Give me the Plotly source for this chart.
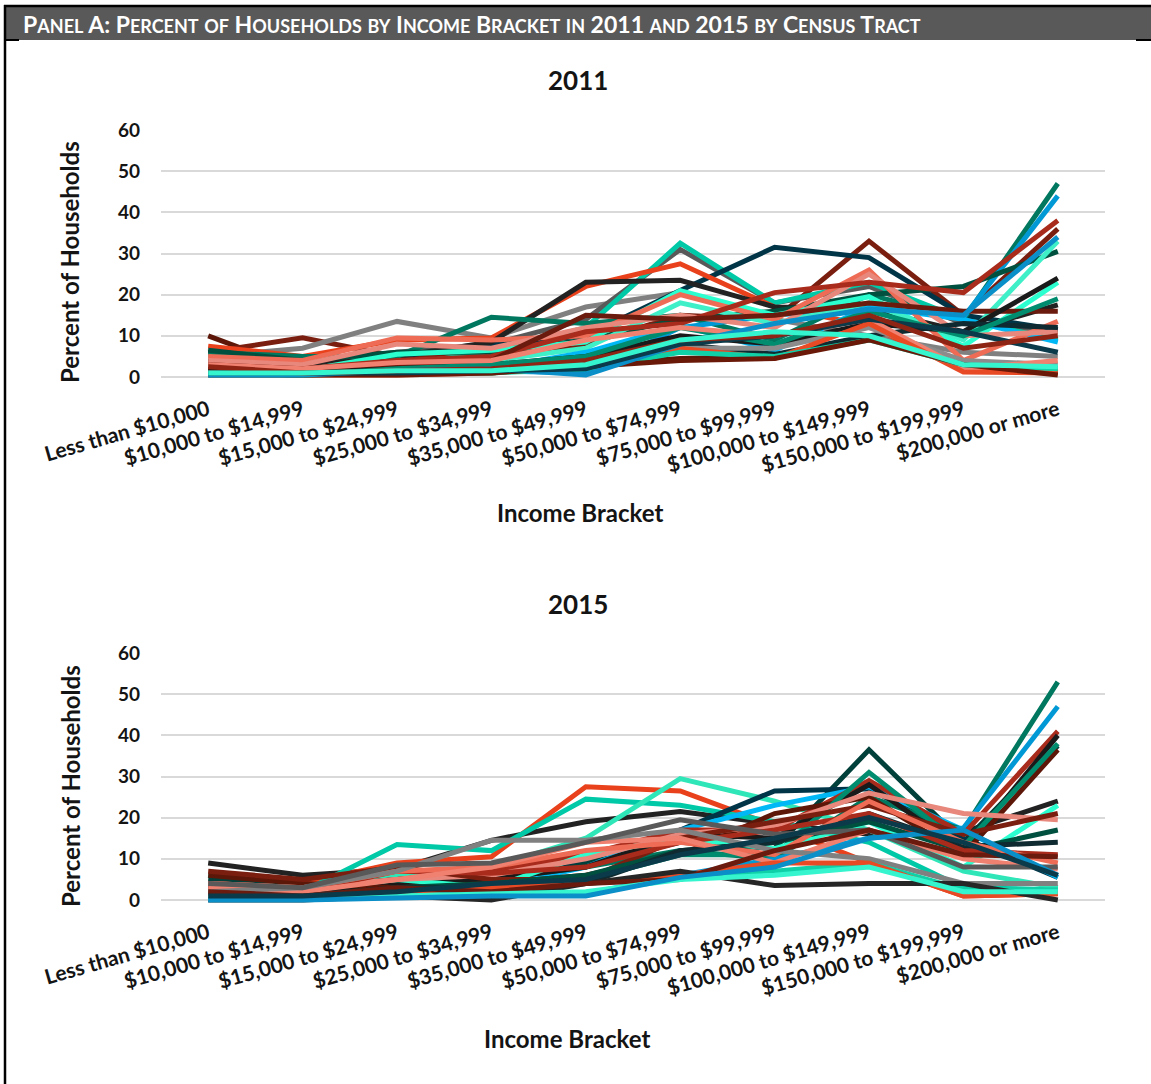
import plotly.graph_objects as go

# ---------------- data ----------------
categories = ["Less than $10,000", "$10,000 to $14,999", "$15,000 to $24,999",
              "$25,000 to $34,999", "$35,000 to $49,999", "$50,000 to $74,999",
              "$75,000 to $99,999", "$100,000 to $149,999", "$150,000 to $199,999",
              "$200,000 or more"]
y_ticks = [0, 10, 20, 30, 40, 50, 60]

# 2011, percent of households per census tract
t01_2011 = [10, 1.5, 1, 1, 3, 4.5, 5, 10, 4, 1]
t02_2011 = [6, 9.5, 5, 5, 8, 15, 14, 33, 15, 36]
t03_2011 = [5, 7, 13.5, 9.5, 17, 20.5, 14, 10, 6, 5]
t04_2011 = [3, 3.5, 6, 8, 14, 31, 18, 22, 13, 11]
t05_2011 = [1, 1, 3, 6, 12, 32.5, 18, 23, 14, 9]
t06_2011 = [2, 3, 5, 8, 10, 21, 31.5, 29, 15, 11.5]
t07_2011 = [7.5, 5, 9, 9.5, 22, 27.5, 17, 12.5, 1.5, 1.5]
t08_2011 = [4, 3, 5, 8.5, 23, 23.5, 17, 16.5, 11, 17.5]
t09_2011 = [6, 5, 5, 14.5, 13, 15, 9, 20, 14, 47]
t10_2011 = [1.5, 1, 1.5, 1.5, 1, 12, 15, 17, 14.5, 44]
t11_2011 = [6.5, 4, 6, 6, 9, 14, 16, 20, 22, 30.5]
t12_2011 = [2, 1.5, 5.5, 6.5, 8.5, 21, 15, 19.5, 7.5, 23]
t13_2011 = [3, 2, 3, 4, 7, 18, 13, 18, 9, 33]
t14_2011 = [1, 0.5, 1, 2, 6, 12.5, 6.5, 17, 14, 8.5]
t15_2011 = [5, 4, 9.5, 9, 10, 20, 14, 26, 4, 13.5]
t16_2011 = [4, 3, 8, 7, 12, 15, 12, 25, 10, 11]
t17_2011 = [2, 2, 4, 5, 11, 13, 20.5, 23, 20.5, 38]
t18_2011 = [3, 2, 3, 4, 15, 14, 15, 18, 16, 16]
t19_2011 = [2, 1, 2, 3, 5, 10, 8, 13, 11, 24]
t20_2011 = [1, 1, 1, 2, 4, 8, 5.5, 10, 13, 12]
t21_2011 = [1, 0.5, 2, 3, 5, 12, 8, 16, 10, 19]
t22_2011 = [1, 0.5, 1, 1.5, 3, 7, 7, 12, 4, 3]
t23_2011 = [3, 2, 3.5, 4, 9, 12, 10, 14, 2, 4]
t24_2011 = [1, 0.5, 0.5, 1, 3, 7, 4.5, 13, 1.2, 1]
t25_2011 = [0.5, 0.5, 1, 1, 2, 6, 5, 9, 3, 2]
t26_2011 = [0.5, 0.5, 0.5, 1, 2.5, 4, 4.5, 9, 3, 0.5]
t27_2011 = [0.5, 0.5, 1.5, 2, 0.5, 8, 13, 16.5, 15, 34]
t28_2011 = [1, 1, 1, 1.5, 2, 8, 10, 14, 11, 6]
t29_2011 = [2.5, 1, 1.5, 2, 4, 9, 10, 15, 7, 10]
t30_2011 = [1, 1, 1.5, 1.5, 3, 9, 11, 10, 3, 2.5]

# 2015, percent of households per census tract
t01_2015 = [9, 6, 7.5, 14.5, 19, 21.5, 18.5, 16, 16.5, 24]
t02_2015 = [3, 4, 9, 10.5, 27.5, 26.5, 18, 9, 1, 1.5]
t03_2015 = [6, 2, 13.5, 12, 24.5, 23, 19, 14, 3, 2.5]
t04_2015 = [3, 2, 6, 8, 15, 29.5, 24, 17, 7, 3]
t05_2015 = [5, 3, 5, 7, 9, 14, 12.5, 36.5, 14, 37.5]
t06_2015 = [2, 2, 4, 5, 10, 17, 26.5, 27, 15, 5.5]
t07_2015 = [1, 1, 2, 3, 8, 17, 23, 27.5, 17, 5.5]
t08_2015 = [2, 1, 3, 5, 8, 12, 10, 25, 17, 53]
t09_2015 = [0.5, 0.5, 1, 2, 1.5, 6, 10, 15, 17.5, 47]
t10_2015 = [4, 3, 5, 7, 11, 17, 17, 29, 16, 41]
t11_2015 = [3, 2, 4, 5, 8, 16, 15, 28, 12, 40]
t12_2015 = [6, 4, 3, 4, 6, 11, 21, 25, 11, 36.5]
t13_2015 = [1, 1, 2, 3, 5, 11, 11, 31, 13, 38]
t14_2015 = [2.5, 2.5, 5, 3, 11, 15, 12.5, 19, 8, 23]
t15_2015 = [4, 3, 5, 6, 10, 16, 18, 26, 21, 19.5]
t16_2015 = [7, 5, 8, 5, 5, 15, 19, 23, 16, 21]
t17_2015 = [1.5, 1, 3, 4, 6, 12, 14, 19, 12, 17]
t18_2015 = [2, 1, 3, 3, 4, 12, 14, 21, 13, 14]
t19_2015 = [3, 2, 7, 6.5, 8, 14, 17, 21, 12, 11]
t20_2015 = [4, 3, 7, 8, 12, 14, 11, 24, 14, 9]
t21_2015 = [3, 2, 5, 8, 14, 15, 9, 17, 10, 7.5]
t22_2015 = [2, 3, 7, 14.5, 14.5, 17, 12, 10, 4, 4]
t23_2015 = [4, 3, 8.5, 9, 14, 19.5, 16, 17, 8, 8]
t24_2015 = [1, 1, 2, 3, 4, 5.5, 7, 9, 2.5, 2.5]
t25_2015 = [1, 1, 2, 3, 4, 6, 9, 9, 1, 1.5]
t26_2015 = [0, 0, 1, 0, 4, 7, 3.5, 4, 4, 0]
t27_2015 = [2, 1, 3, 2, 4, 5, 12, 17, 11, 10.5]
t28_2015 = [0.5, 0.5, 1, 1.5, 2, 5, 6, 8, 2, 2]
t29_2015 = [0, 0, 0.5, 1, 1, 5.5, 8, 15, 17, 6]
t30_2015 = [1, 1, 2, 4, 5, 11, 15, 20, 14, 6]

tracts_2011 = [t01_2011, t02_2011, t03_2011, t04_2011, t05_2011, t06_2011, t07_2011,
               t08_2011, t09_2011, t10_2011, t11_2011, t12_2011, t13_2011, t14_2011,
               t15_2011, t16_2011, t17_2011, t18_2011, t19_2011, t20_2011, t21_2011,
               t22_2011, t23_2011, t24_2011, t25_2011, t26_2011, t27_2011, t28_2011,
               t29_2011, t30_2011]
tracts_2015 = [t01_2015, t02_2015, t03_2015, t04_2015, t05_2015, t06_2015, t07_2015,
               t08_2015, t09_2015, t10_2015, t11_2015, t12_2015, t13_2015, t14_2015,
               t15_2015, t16_2015, t17_2015, t18_2015, t19_2015, t20_2015, t21_2015,
               t22_2015, t23_2015, t24_2015, t25_2015, t26_2015, t27_2015, t28_2015,
               t29_2015, t30_2015]

# ---------------- styles ----------------
colors_2011 = ["#5C1708", "#7A1E10", "#808080", "#595959", "#00C9A7", "#003548",
               "#E8411B", "#222222", "#00775F", "#0099D6", "#00503F", "#2BFFD0",
               "#3FEFC8", "#00B8F5", "#EE6C55", "#E8877B", "#A82B1C", "#6B1A0E",
               "#1A1A1A", "#0F2A30", "#008C6E", "#8C8C8C", "#F08070", "#E84A25",
               "#10D0A8", "#6A1808", "#0A8FC8", "#0B3A4A", "#8E2414", "#35F5CF"]
colors_2015 = ["#222222", "#E8411B", "#00C9A7", "#2EE6B8", "#00403A", "#003548",
               "#00B8F5", "#00775F", "#0099D6", "#A82B1C", "#1A1A1A", "#5C1708",
               "#008C6E", "#2BFFD0", "#E8877B", "#7A1E10", "#00503F", "#0F2A30",
               "#A82B1C", "#EE6C55", "#F08070", "#808080", "#595959", "#10D0A8",
               "#E84A25", "#262626", "#6B1A0E", "#35F5CF", "#0A8FC8", "#0B3A4A"]

W, H = 1151, 1084
FONT = "Lato"
TXT = "#141414"


def px(x):
    return x / W


def py(y):
    return 1 - y / H


fig = go.Figure()

for vals, col in zip(tracts_2011, colors_2011):
    fig.add_trace(go.Scatter(x=categories, y=vals, mode="lines",
                             line=dict(color=col, width=5),
                             xaxis="x", yaxis="y", showlegend=False,
                             hoverinfo="skip"))
for vals, col in zip(tracts_2015, colors_2015):
    fig.add_trace(go.Scatter(x=categories, y=vals, mode="lines",
                             line=dict(color=col, width=5),
                             xaxis="x2", yaxis="y2", showlegend=False,
                             hoverinfo="skip"))

unit = 247 / 60.0  # pixels per percent


def ydom(zero_px, top_px):
    bottom_px = zero_px + unit * 1.0
    return [py(bottom_px), py(top_px)]


xaxis_common = dict(
    domain=[px(161), px(1105)],
    type="category",
    range=[-0.5, len(categories) - 0.5],
    automargin=False,
    showgrid=False, zeroline=False, showline=False,
    tickangle=-16,
    tickfont=dict(family=FONT, size=21, color=TXT, weight="bold"),
    ticks="", ticklabelstandoff=12,
)
yaxis_common = dict(
    range=[-1, 60],
    tickvals=y_ticks,
    automargin=False,
    showgrid=True, gridcolor="#D9D9D9", gridwidth=1.5,
    zeroline=False, showline=False,
    tickfont=dict(family=FONT, size=19, color=TXT, weight="bold"),
    ticks="", ticklabelstandoff=20,
)

fig.update_layout(
    width=W, height=H, autosize=False,
    margin=dict(l=0, r=0, t=0, b=0, pad=0, autoexpand=False),
    paper_bgcolor="white", plot_bgcolor="white",
    xaxis=dict(**xaxis_common, anchor="y"),
    yaxis=dict(**yaxis_common, domain=ydom(377, 130), anchor="x"),
    xaxis2=dict(**xaxis_common, anchor="y2"),
    yaxis2=dict(**yaxis_common, domain=ydom(900, 653), anchor="x2"),
)

# ---------------- frame / header ----------------
shapes = [
    dict(type="rect", xref="paper", yref="paper", x0=px(4), x1=px(1151),
         y0=py(40), y1=py(5), fillcolor="#595959", line=dict(width=0), layer="below"),
    dict(type="line", xref="paper", yref="paper", x0=px(4), x1=px(1151),
         y0=py(6), y1=py(6), line=dict(color="black", width=2.5)),
    dict(type="line", xref="paper", yref="paper", x0=px(4), x1=px(19),
         y0=py(40), y1=py(40), line=dict(color="black", width=2)),
    dict(type="line", xref="paper", yref="paper", x0=px(1136), x1=px(1151),
         y0=py(40), y1=py(40), line=dict(color="black", width=2)),
    dict(type="line", xref="paper", yref="paper", x0=px(5), x1=px(5),
         y0=py(5), y1=py(1084), line=dict(color="black", width=2.5)),
]
fig.update_layout(shapes=shapes)


def small_caps(text, small=18):
    out = []
    for ch in text:
        if ch.islower():
            out.append(f"<span style='font-size:{small}px'>{ch.upper()}</span>")
        else:
            out.append(ch)
    return "".join(out)


header = small_caps("Panel A: Percent of Households by Income Bracket in 2011 and 2015 by Census Tract")

annotations = [
    dict(text=header, x=px(21), y=py(24), xanchor="left", yanchor="middle",
         font=dict(family=FONT, size=23, color="white", weight="bold")),
    dict(text="2011", x=px(578), y=py(80), xanchor="center", yanchor="middle",
         font=dict(family=FONT, size=26, color=TXT, weight="bold")),
    dict(text="2015", x=px(578), y=py(604), xanchor="center", yanchor="middle",
         font=dict(family=FONT, size=26, color=TXT, weight="bold")),
    dict(text="Percent of Households", x=px(70), y=py(262), textangle=-90,
         xanchor="center", yanchor="middle",
         font=dict(family=FONT, size=24, color=TXT, weight="bold")),
    dict(text="Percent of Households", x=px(70), y=py(786), textangle=-90,
         xanchor="center", yanchor="middle",
         font=dict(family=FONT, size=24, color=TXT, weight="bold")),
    dict(text="Income Bracket", x=px(580), y=py(512), xanchor="center", yanchor="middle",
         font=dict(family=FONT, size=24, color=TXT, weight="bold")),
    dict(text="Income Bracket", x=px(567), y=py(1038), xanchor="center", yanchor="middle",
         font=dict(family=FONT, size=24, color=TXT, weight="bold")),
]
for a in annotations:
    a.update(xref="paper", yref="paper", showarrow=False)
fig.update_layout(annotations=annotations)

fig.write_html("out.html", config={"displayModeBar": False},
               post_script="document.body.style.margin='0px';")
